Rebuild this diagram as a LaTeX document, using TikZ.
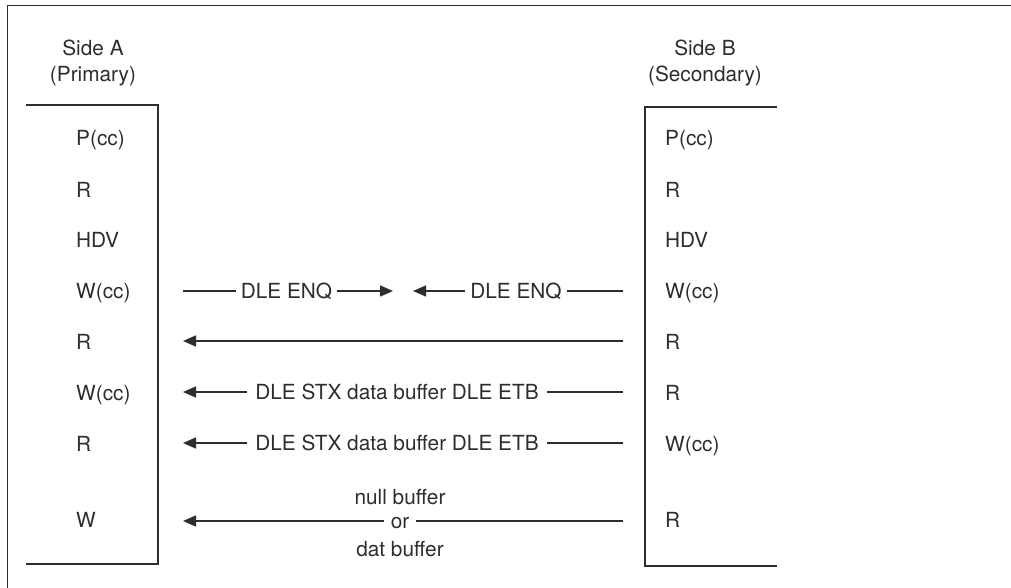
\documentclass[tikz,border=0pt]{standalone}
\usepackage{fontspec}
\setmainfont{TeX Gyre Heros}
\usepackage{xcolor}
\usepackage{tikz}
\usetikzlibrary{arrows.meta,positioning}
\definecolor{inkgray}{RGB}{45,45,45}

\begin{document}
\begin{tikzpicture}[x=1pt, y=-1pt, font=\fontsize{20.8}{25}\selectfont,
  every node/.style={text=inkgray},
  rule/.style={draw=inkgray, line width=1.5pt},
  msg/.style={rule, -{Triangle[length=13pt,width=11pt]}},
  cmd/.style={anchor=base west, inner sep=0pt},
  head/.style={anchor=base, inner sep=0pt},
  tag/.style={inner xsep=5pt, inner ysep=0pt, text height=14.5pt, text depth=0pt}]
  \useasboundingbox (0,0) rectangle (1011,588);
  % outer frame, top and left edges only
  \draw[rule] (1011,5.5) -- (7.5,5.5) -- (7.5,588);
  % station headings
  \node[head] (sideA) at (93,56) {Side A};
  \node[head] (roleA) at (93,82) {(Primary)};
  \node[head] (sideB) at (705,56) {Side B};
  \node[head] (roleB) at (705,82) {(Secondary)};
  % the two stations
  \draw[rule] (26,105) -- (158,105) -- (158,564) -- (26,564);
  \draw[rule] (777,107) -- (645,107) -- (645,566) -- (777,566);
  % command sequences on each side
  \foreach \k/\y/\a/\b in {1/146/P(cc)/P(cc), 2/197/R/R, 3/247/HDV/HDV,
      4/298/W(cc)/W(cc), 5/349/R/R, 6/400/W(cc)/R, 7/451/R/W(cc), 8/527/W/R}{
    \node[cmd] (cA\k) at (76,\y) {\a};
    \node[cmd] (cB\k) at (665,\y) {\b};
  }
  % line ends next to the stations
  \foreach \k/\y in {1/291, 2/341, 3/392, 4/443, 5/521}{
    \coordinate (eA\k) at (183,\y);
    \coordinate (eB\k) at (623,\y);
  }
  % both sides bid at once
  \node[tag] (enqA) at (286.5,291) {DLE ENQ};
  \node[tag] (enqB) at (516,291) {DLE ENQ};
  \coordinate (tipA) at (393,291);
  \coordinate (tipB) at (413,291);
  \draw[rule] (eA1) -- (enqA);
  \draw[msg] (enqA) -- (tipA);
  \draw[rule] (eB1) -- (enqB);
  \draw[msg] (enqB) -- (tipB);
  % secondary answers
  \draw[msg] (eB2) -- (eA2);
  % data blocks
  \node[tag, inner xsep=8pt] (stx1) at (397,392) {DLE STX data buffer DLE ETB};
  \draw[rule] (eB3) -- (stx1);
  \draw[msg] (stx1) -- (eA3);
  \node[tag, inner xsep=8pt] (stx2) at (397,443) {DLE STX data buffer DLE ETB};
  \draw[rule] (eB4) -- (stx2);
  \draw[msg] (stx2) -- (eA4);
  % last block
  \node[tag, inner xsep=7pt] (alt) at (400,521) {or};
  \node[head] (nul) at (400,504) {null buffer};
  \node[head] (dat) at (400,556) {dat buffer};
  \draw[rule] (eB5) -- (alt);
  \draw[msg] (alt) -- (eA5);
\end{tikzpicture}
\end{document}
